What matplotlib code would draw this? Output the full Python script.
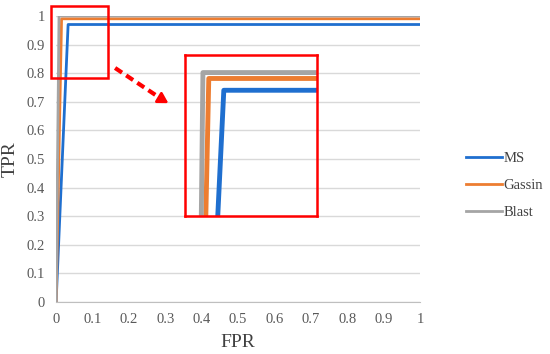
import matplotlib.pyplot as plt
from matplotlib.patches import Rectangle

plt.rcParams['font.family'] = ['Liberation Serif', 'DejaVu Serif']

# ROC points (FPR, TPR)
ms_fpr = [0, 0.033, 1]
ms_tpr = [0, 0.97, 0.97]
gassin_fpr = [0, 0.015, 1]
gassin_tpr = [0, 0.99, 0.99]
blast_fpr = [0, 0.008, 1]
blast_tpr = [0, 1.0, 1.0]

names = ['MS', 'Gassin', 'Blast']
colors = ['#1f6fcf', '#ED7D31', '#A5A5A5']
ticks = [0, 0.1, 0.2, 0.3, 0.4, 0.5, 0.6, 0.7, 0.8, 0.9, 1]
tick_labels = ['0', '0.1', '0.2', '0.3', '0.4', '0.5', '0.6', '0.7', '0.8', '0.9', '1']

series = [(ms_fpr, ms_tpr), (gassin_fpr, gassin_tpr), (blast_fpr, blast_tpr)]

fig = plt.figure(figsize=(5.5, 3.54), dpi=100)
ax = fig.add_axes([0.102, 0.147, 0.662, 0.808])

for (x, y), name, c in zip(series, names, colors):
    ax.plot(x, y, color=c, lw=2, label=name, zorder=3)

ax.set_xlim(0, 1)
ax.set_ylim(0, 1)
ax.set_xticks(ticks)
ax.set_xticklabels(tick_labels)
ax.set_yticks(ticks)
ax.set_yticklabels(tick_labels)
ax.tick_params(length=0, labelsize=10.5, labelcolor='#595959', pad=8)
ax.grid(axis='y', color='#d9d9d9', lw=1)
for s in ['top', 'right', 'left']:
    ax.spines[s].set_visible(False)
ax.spines['bottom'].set_color('#bfbfbf')
ax.set_xlabel('FPR', fontsize=14, color='#404040', labelpad=6)
ax.set_ylabel('TPR', fontsize=14, color='#404040', labelpad=6)

# small highlight box around the corner
ax.add_patch(Rectangle((-0.015, 0.784), 0.157, 0.251, fill=False,
                       edgecolor='red', lw=1.8, clip_on=False, zorder=5))

# dashed arrow
ax.plot([0.162, 0.295], [0.818, 0.705], color='red', lw=3, ls=(0, (2, 1.2)), zorder=5)
ax.annotate('', xy=(0.315, 0.69), xytext=(0.29, 0.709),
            arrowprops=dict(arrowstyle='-|>,head_width=0.35,head_length=0.6',
                            color='red', lw=2), zorder=5)

# zoomed inset
ins = fig.add_axes([0.336, 0.39, 0.24, 0.455])
ins.patch.set_alpha(0)
for (x, y), c in zip(series, colors):
    ins.plot(x, y, color=c, lw=3.5, solid_capstyle='butt')
ins.set_xlim(-0.0137, 0.1443)
ins.set_ylim(0.757, 1.03)
ins.set_xticks([])
ins.set_yticks([])
for s in ins.spines.values():
    s.set_color('red')
    s.set_linewidth(1.8)

fig.legend(loc='center left', bbox_to_anchor=(0.847, 0.477), frameon=False,
           fontsize=10.5, handlelength=2.5, handletextpad=0.1, labelspacing=0.95,
           borderaxespad=0, borderpad=0, labelcolor='#404040')

fig.savefig('out.png')
